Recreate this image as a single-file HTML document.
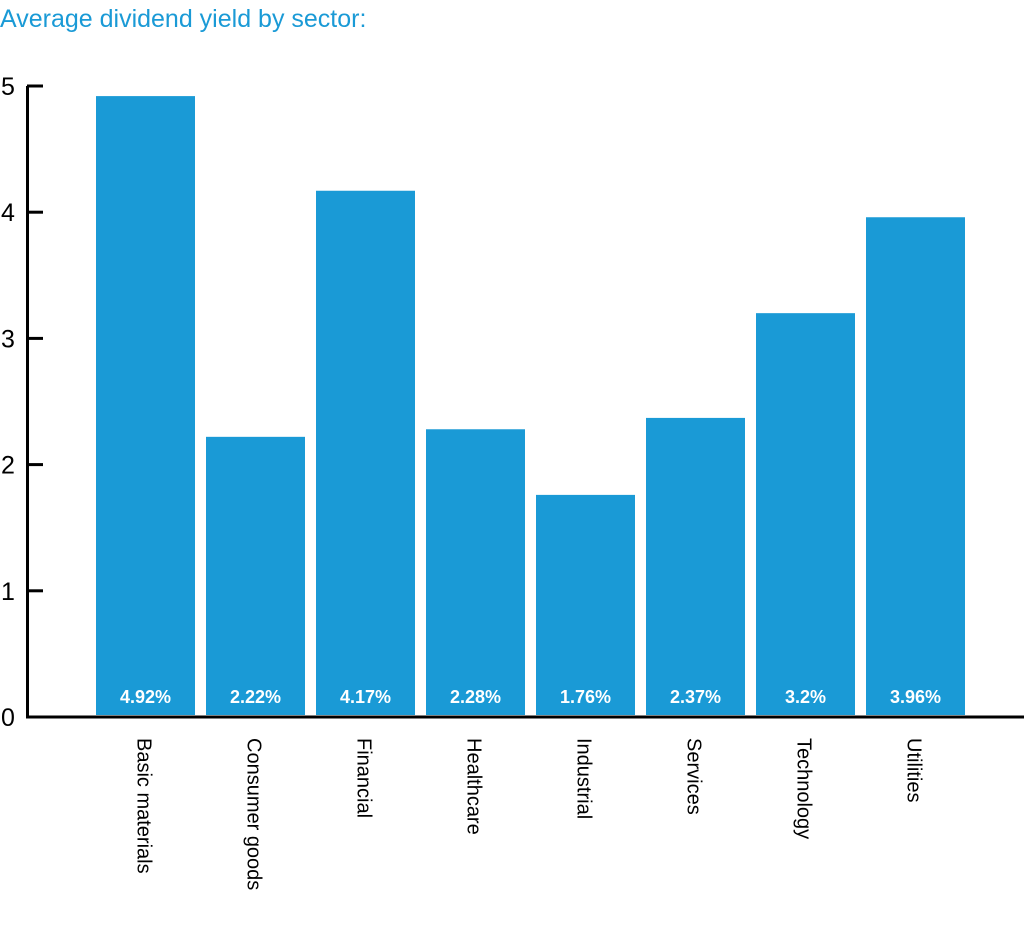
<!DOCTYPE html>
<html><head><meta charset="utf-8"><style>
html,body{margin:0;padding:0;background:#fff;}
svg{display:block;font-family:"Liberation Sans",sans-serif;}
</style></head><body>
<svg id="chart" width="1024" height="937">
<text x="0" y="27" font-size="25" fill="#1a9ad6">Average dividend yield by sector:</text>
<g id="bars"></g>
<g id="axes"></g>
</svg>
<script>
const categories=["Basic materials","Consumer goods","Financial","Healthcare","Industrial","Services","Technology","Utilities"];
const values=[4.92,2.22,4.17,2.28,1.76,2.37,3.2,3.96];
const valueLabels=["4.92%","2.22%","4.17%","2.28%","1.76%","2.37%","3.2%","3.96%"];
const yTicks=[0,1,2,3,4,5];
const NS="http://www.w3.org/2000/svg";
const y0=717,yTop=86,yMax=5;
const y=v=>y0-(y0-yTop)*v/yMax;
const xStart=96,step=110,bw=99;
const x=i=>xStart+i*step;
function mk(t,a,p){const e=document.createElementNS(NS,t);for(const k in a)e.setAttribute(k,a[k]);p.appendChild(e);return e;}
const bars=document.getElementById('bars'),axes=document.getElementById('axes');
values.forEach((v,i)=>{
 const r=mk('rect',{x:x(i),y:y(v),width:bw,height:y0-2-y(v),fill:'#1a9ad6'},bars);
 
 
 const t=mk('text',{x:x(i)+bw/2,y:703,'text-anchor':'middle','font-size':'18','font-weight':'bold',fill:'#fff'},bars);
 t.textContent=valueLabels[i];
 
 
 const c=mk('text',{transform:`translate(${x(i)+bw/2-8},738) rotate(90)`,'font-size':'20',fill:'#000'},bars);
 c.textContent=categories[i];
 
 
});
const ya=mk('line',{x1:27.5,y1:yTop,x2:27.5,y2:y0+1,stroke:'#000','stroke-width':3},axes);


const xa=mk('line',{x1:26,y1:y0,x2:1024,y2:y0,stroke:'#000','stroke-width':3},axes);


yTicks.forEach(v=>{
 const l=mk('line',{x1:27,y1:y(v),x2:43,y2:y(v),stroke:'#000','stroke-width':3},axes);
 
 
 const t=mk('text',{x:1,y:y(v)+9,'font-size':'25',fill:'#000'},axes);
 t.textContent=v;
 
 
});
</script>
</body></html>
